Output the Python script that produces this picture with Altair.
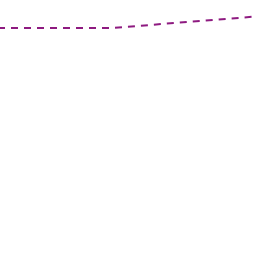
import altair as alt
import pandas as pd

xs = [0, 7, 16]
ys = [228, 228, 239.5]

df = pd.DataFrame({"x": xs, "y": ys})

chart = alt.Chart(df).mark_line(
    color="#8e1a80", strokeWidth=2, strokeDash=[7, 6], strokeDashOffset=2
).encode(
    x=alt.X("x:Q", scale=alt.Scale(domain=[0, 16], nice=False, zero=False), axis=None),
    y=alt.Y("y:Q", scale=alt.Scale(domain=[0, 256], nice=False), axis=None),
).properties(
    width=256, height=256, padding=0, autosize=alt.AutoSizeParams(type="none")
).configure_view(stroke=None)

chart.save("out.html", embed_options={"renderer": "svg", "actions": False})
